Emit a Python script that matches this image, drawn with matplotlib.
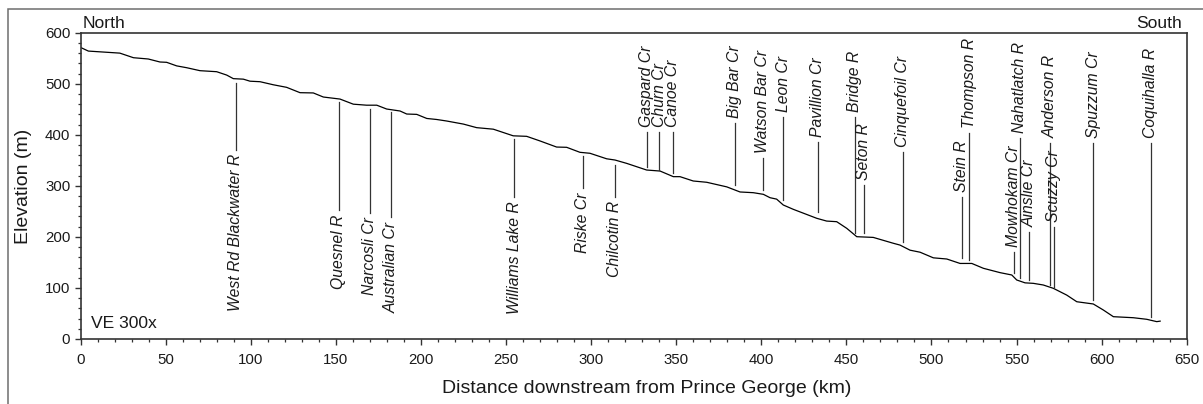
import matplotlib
matplotlib.use("Agg")
import matplotlib.pyplot as plt
from matplotlib.ticker import MultipleLocator
from matplotlib.patches import Rectangle

plt.rcParams['font.family'] = ['Liberation Sans', 'DejaVu Sans']

# Longitudinal profile of the Fraser River (distance km, elevation m)
dist_km = [0, 4.5, 23, 31, 39.7, 46.6, 50.5, 56.4, 62.3, 70.1, 79.9, 85.8, 89.7, 95.6,
           99.5, 105.4, 113.2, 121, 128.9, 136.7, 142.6, 152.4, 160.2, 168, 174, 179.8,
           187.7, 191.6, 197.5, 203.4, 209.2, 215.1, 224.9, 232.7, 242.5, 254.2, 262.1,
           269.9, 279.7, 285.6, 293.4, 299.3, 309.1, 314, 320.9, 332.6, 340.5, 348.3,
           352.2, 360, 367.9, 379.7, 387.5, 395.3, 401.2, 405.1, 409, 412.9, 418.8,
           432.6, 438.4, 444.3, 450.2, 456.1, 465.8, 477.6, 481.5, 487.4, 493.3, 501.1,
           509, 516.8, 523.7, 530.5, 540.3, 547.2, 550.1, 555, 559.9, 565.7, 571.6,
           579.5, 585.4, 595.1, 601, 606.9, 618.6, 626.5, 632.4, 634.4]
elev_m = [571, 564, 560, 551, 548.5, 542.6, 542, 535, 531.4, 525.6, 523.6, 517, 510, 509,
          505, 504, 498, 493, 482.5, 482, 474, 470, 460, 458, 458, 450.5,
          446.6, 440.7, 440, 432, 430, 427, 421, 414, 411, 398, 397,
          388, 376, 375.5, 365.7, 363.8, 353, 350.6, 344, 331, 329, 318,
          318, 309.5, 307, 298, 288, 286.6, 283.4, 276.8, 274, 262.5, 254,
          236.4, 231, 229.8, 216.8, 200.4, 199, 187.5, 184, 174, 170, 159,
          156.7, 148, 148, 138.5, 130, 125.4, 115.6, 110, 109, 105.8, 99.3,
          86, 73, 68.6, 56.8, 43.7, 41.7, 38.6, 34, 35]

# Tributaries labelled below the profile: name, km, line top (m), line bottom (m)
below_names = ["West Rd Blackwater R", "Quesnel R", "Narcosli Cr", "Australian Cr",
               "Williams Lake R", "Riske Cr", "Chilcotin R"]
below_km = [91.1, 151.8, 170, 182.4, 254.8, 295, 314]
below_top = [501, 463.7, 450, 444, 391, 358.5, 340.8]
below_bot = [371, 252.6, 246.8, 239, 278.7, 295, 278.7]

# Tributaries labelled above the profile: name, km, line bottom (m), line top (m)
above_names = ["Gaspard Cr", "Churn Cr", "Canoe Cr", "Big Bar Cr", "Watson Bar Cr",
               "Leon Cr", "Pavillion Cr", "Bridge R", "Seton R", "Cinquefoil Cr",
               "Stein R", "Thompson R", "Mowhokam Cr", "Nahatlatch R", "Ainslie Cr",
               "Anderson R", "Scuzzy Cr", "Spuzzum Cr", "Coquihalla R"]
above_km = [332.6, 340, 348, 384.5, 400.8, 413, 433.1, 455, 460.3, 483.1,
            517.8, 522.2, 548.5, 552, 557.5, 569.7, 572, 595.1, 628.9]
above_bot = [337.5, 331, 325, 301.7, 292, 272, 248.8, 207.6, 207.6, 190,
             158.7, 154.7, 129, 119.5, 115.6, 105.8, 101.9, 76.4, 43]
above_top = [406, 406, 406, 423, 354.5, 434.9, 386, 435, 301.7, 366,
             278, 403.5, 170.4, 393.7, 209.6, 384, 219.4, 384, 384]

W, H = 1203, 404
fig = plt.figure(figsize=(W / 100, H / 100), dpi=100)
ax = fig.add_axes([80.7 / W, 1 - 339 / H, (1186.7 - 80.7) / W, (339 - 32.7) / H])

# outer frame
fig.patches.append(Rectangle((8.3 / W, -0.05), 1.2, 1 - 9.3 / H + 0.05,
                             transform=fig.transFigure, fill=False,
                             edgecolor='#6e6e6e', linewidth=1.1))

ax.plot(dist_km, elev_m, color='black', linewidth=0.9)

tcol = '#1a1a1a'
lcol = '#333333'
for name, k, t, b in zip(below_names, below_km, below_top, below_bot):
    ax.plot([k, k], [b, t], color=lcol, linewidth=0.9)
    ax.text(k, b - 9, name, rotation=90, ha='center', va='top', fontsize=11.3,
            style='italic', color=tcol)
for name, k, b, t in zip(above_names, above_km, above_bot, above_top):
    ax.plot([k, k], [b, t], color=lcol, linewidth=0.9)
    ax.text(k, t + 10, name, rotation=90, ha='center', va='bottom', fontsize=11.3,
            style='italic', color=tcol)

ax.set_xlim(0, 650)
ax.set_ylim(0, 600)
ax.xaxis.set_major_locator(MultipleLocator(50))
ax.xaxis.set_minor_locator(MultipleLocator(10))
ax.yaxis.set_major_locator(MultipleLocator(100))
ax.yaxis.set_minor_locator(MultipleLocator(20))
ax.tick_params(which='major', direction='out', length=4, width=1.0, color='#333333',
               labelsize=10.8, labelcolor='#1a1a1a')
ax.tick_params(axis='x', which='major', pad=6)
ax.tick_params(axis='y', which='major', pad=3.5, length=4)
ax.tick_params(which='minor', direction='out', length=2.5, width=0.9, color='#333333')
for s in ax.spines.values():
    s.set_color('#333333')
    s.set_linewidth(1.2)

fig.text(83 / W, 1 - 27.5 / H, "North", ha='left', va='baseline', fontsize=12.6,
         color=tcol)
fig.text(1182 / W, 1 - 27.5 / H, "South", ha='right', va='baseline', fontsize=12.6,
         color=tcol)
fig.text(90.7 / W, 1 - 328.3 / H, "VE 300x", ha='left', va='baseline', fontsize=12.6,
         color=tcol)
fig.text(646.7 / W, 1 - 393 / H, "Distance downstream from Prince George (km)",
         ha='center', va='baseline', fontsize=14, color=tcol)
fig.text(24 / W, 1 - 186 / H, "Elevation (m)", rotation=90, ha='center', va='center',
         fontsize=14, color=tcol)

fig.savefig("out.png", dpi=100)
